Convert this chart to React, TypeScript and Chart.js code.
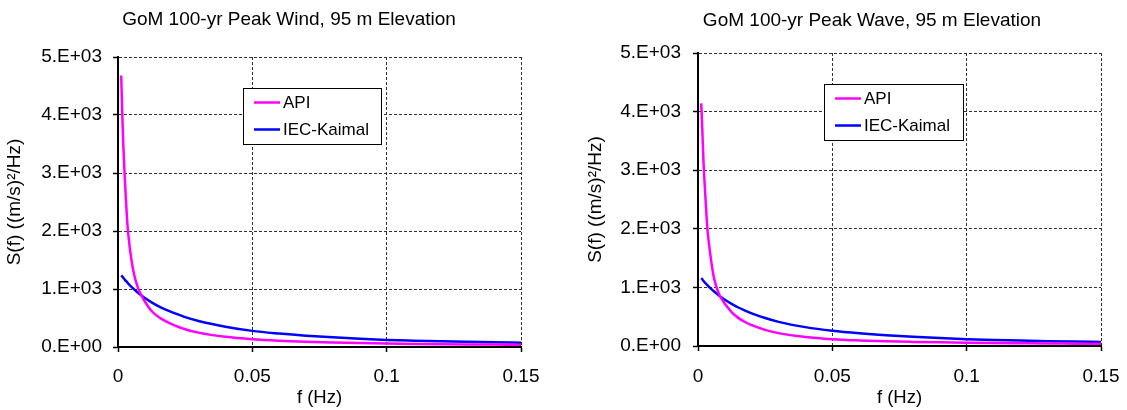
import React, { useEffect, useRef } from 'react';
import { Chart, registerables } from 'chart.js';

Chart.register(...registerables);

// ---------- data ----------
const freqHz = [
  0.0012, 0.0016, 0.002, 0.0025, 0.003, 0.0035, 0.004, 0.005, 0.006, 0.007,
  0.008, 0.009, 0.01, 0.0125, 0.015, 0.0175, 0.02, 0.025, 0.03, 0.04,
  0.05, 0.06, 0.07, 0.08, 0.09, 0.1, 0.11, 0.12, 0.13, 0.14, 0.15,
];

const windApi = [
  4680, 4000, 3450, 2950, 2500, 2120, 1870, 1500, 1250, 1080,
  955, 865, 785, 620, 520, 450, 395, 305, 248, 175,
  132, 106, 89, 77, 67, 59, 53, 48, 44, 41, 38,
];

const windKaimal = [
  1236, 1215, 1190, 1162, 1135, 1110, 1084, 1037, 993, 952,
  914, 878, 844, 769, 703, 648, 600, 515, 448, 350,
  278, 232, 195, 166, 142, 122, 109, 98, 89, 81, 74,
];

const waveApi = [
  4140, 3700, 3200, 2750, 2350, 2000, 1780, 1420, 1150, 990,
  870, 790, 720, 580, 480, 410, 355, 275, 220, 155,
  117, 95, 80, 70, 62, 56, 51, 47, 43, 40, 37,
];

const waveKaimal = [
  1159, 1140, 1112, 1087, 1062, 1038, 1014, 970, 929, 891,
  855, 821, 789, 719, 657, 605, 558, 477, 412, 322,
  260, 216, 182, 156, 135, 117, 103, 92, 83, 76, 70,
];

const xTickValues = [0, 0.05, 0.1, 0.15];
const xTickLabels = ['0', '0.05', '0.1', '0.15'];
const yTickValues = [0, 1000, 2000, 3000, 4000, 5000];
const yTickLabels = ['0.E+00', '1.E+03', '2.E+03', '3.E+03', '4.E+03', '5.E+03'];

const seriesNames = ['API', 'IEC-Kaimal'];
const seriesColors = ['#FF00FF', '#0000FF'];

const chartTitles = [
  'GoM 100-yr Peak Wind, 95 m Elevation',
  'GoM 100-yr Peak Wave, 95 m Elevation',
];
const xAxisTitle = 'f (Hz)';
const yAxisTitle = 'S(f) ((m/s)\u00B2/Hz)';

// ---------- layout ----------
const H = 410;
const FONT = '"Liberation Sans", Arial, sans-serif';

type Geom = {
  left: number;
  width: number;
  area: { l: number; r: number; t: number; b: number };
  yTitlePad: number;
  yTickPad: number;
  xTickPad: number;
  titleX: number;
  titleY: number;
  legend: { x: number; y: number; w: number; h: number };
};

const geoms: Geom[] = [
  {
    left: 0,
    width: 560,
    area: { l: 118, r: 521, t: 57, b: 347 },
    yTitlePad: 3,
    yTickPad: 11,
    xTickPad: 13.5,
    titleX: 289,
    titleY: 20,
    legend: { x: 243, y: 88, w: 138, h: 56 },
  },
  {
    left: 560,
    width: 567,
    area: { l: 138, r: 541, t: 53, b: 346 },
    yTitlePad: 24.5,
    yTickPad: 12,
    xTickPad: 14.5,
    titleX: 312,
    titleY: 21,
    legend: { x: 264, y: 84, w: 139, h: 56 },
  },
];

function Panel({ title, api, kaimal, geom }: { title: string; api: number[]; kaimal: number[]; geom: Geom }) {
  const ref = useRef<HTMLCanvasElement>(null);

  useEffect(() => {
    const canvas = ref.current;
    if (!canvas) return;

    const overlay = {
      id: 'overlay',
      afterDraw(chart: any) {
        const ctx = chart.ctx as CanvasRenderingContext2D;
        ctx.save();
        ctx.fillStyle = '#000';
        ctx.font = `19px ${FONT}`;
        ctx.textAlign = 'center';
        ctx.textBaseline = 'middle';
        ctx.fillText(title, geom.titleX, geom.titleY);

        const L = geom.legend;
        ctx.fillStyle = '#fff';
        ctx.fillRect(L.x, L.y, L.w, L.h);
        ctx.strokeStyle = '#000';
        ctx.lineWidth = 1;
        ctx.strokeRect(L.x + 0.5, L.y + 0.5, L.w, L.h);
        chart.data.datasets.forEach((ds: any, i: number) => {
          const cy = L.y + 14.5 + i * 27;
          ctx.strokeStyle = ds.borderColor;
          ctx.lineWidth = 2.5;
          ctx.beginPath();
          ctx.moveTo(L.x + 11, cy);
          ctx.lineTo(L.x + 37, cy);
          ctx.stroke();
          ctx.fillStyle = '#000';
          ctx.textAlign = 'left';
          ctx.textBaseline = 'middle';
          ctx.font = `17px ${FONT}`;
          ctx.fillText(ds.label, L.x + 40, cy + 1);
        });
        ctx.restore();
      },
    };

    const makeData = (vals: number[]) => freqHz.map((f, i) => ({ x: f, y: vals[i] }));

    const chart = new Chart(canvas, {
      type: 'line',
      data: {
        datasets: [
          {
            label: seriesNames[0],
            data: makeData(api),
            borderColor: seriesColors[0],
            backgroundColor: seriesColors[0],
            borderWidth: 2.5,
            pointRadius: 0,
            cubicInterpolationMode: 'monotone',
            fill: false,
          },
          {
            label: seriesNames[1],
            data: makeData(kaimal),
            borderColor: seriesColors[1],
            backgroundColor: seriesColors[1],
            borderWidth: 2.5,
            pointRadius: 0,
            cubicInterpolationMode: 'monotone',
            fill: false,
          },
        ],
      },
      options: {
        responsive: false,
        animation: false,
        events: [],
        layout: {
          padding: { left: 0, right: geom.width - geom.area.r, top: geom.area.t, bottom: 0 },
        },
        plugins: {
          legend: { display: false },
          title: { display: false },
          tooltip: { enabled: false },
        },
        scales: {
          x: {
            type: 'linear',
            position: 'bottom',
            min: 0,
            max: 0.15,
            afterBuildTicks: (s: any) => {
              s.ticks = xTickValues.map((v) => ({ value: v }));
            },
            afterFit: (s: any) => {
              s.height = H - geom.area.b;
              s.paddingLeft = 0;
              s.paddingRight = 0;
            },
            ticks: {
              callback: (_v: any, i: number) => xTickLabels[i],
              font: { size: 19, family: FONT },
              color: '#000',
              padding: geom.xTickPad,
              maxRotation: 0,
              autoSkip: false,
            },
            grid: {
              color: '#333',
              lineWidth: 1,
              drawTicks: true,
              tickLength: 5,
              tickColor: '#000',
              tickWidth: 1.5,
            },
            border: { display: true, color: '#000', width: 2, dash: [3, 2] },
            title: {
              display: true,
              text: xAxisTitle,
              color: '#000',
              font: { size: 18.5, family: FONT },
              padding: { top: 0, bottom: 1 },
            },
          },
          y: {
            type: 'linear',
            position: 'left',
            min: 0,
            max: 5000,
            afterBuildTicks: (s: any) => {
              s.ticks = yTickValues.map((v) => ({ value: v }));
            },
            afterFit: (s: any) => {
              s.width = geom.area.l;
              s.paddingTop = 0;
              s.paddingBottom = 0;
            },
            ticks: {
              callback: (_v: any, i: number) => yTickLabels[i],
              font: { size: 19, family: FONT },
              color: '#000',
              padding: geom.yTickPad,
              autoSkip: false,
            },
            grid: {
              color: '#333',
              lineWidth: 1,
              drawTicks: true,
              tickLength: 5,
              tickColor: '#000',
              tickWidth: 1.5,
            },
            border: { display: true, color: '#000', width: 2, dash: [3, 2] },
            title: {
              display: true,
              text: yAxisTitle,
              color: '#000',
              font: { size: 19, family: FONT },
              padding: { top: geom.yTitlePad, bottom: 0 },
            },
          },
        },
      } as any,
      plugins: [overlay],
    });

    return () => {
      chart.destroy();
    };
  }, [title, api, kaimal, geom]);

  return (
    <canvas
      ref={ref}
      width={geom.width}
      height={H}
      style={{ position: 'absolute', left: geom.left, top: 0, width: geom.width, height: H }}
    />
  );
}

export default function App() {
  return (
    <div style={{ position: 'fixed', left: 0, top: 0, width: 1127, height: H, background: '#fff' }}>
      <Panel title={chartTitles[0]} api={windApi} kaimal={windKaimal} geom={geoms[0]} />
      <Panel title={chartTitles[1]} api={waveApi} kaimal={waveKaimal} geom={geoms[1]} />
    </div>
  );
}
